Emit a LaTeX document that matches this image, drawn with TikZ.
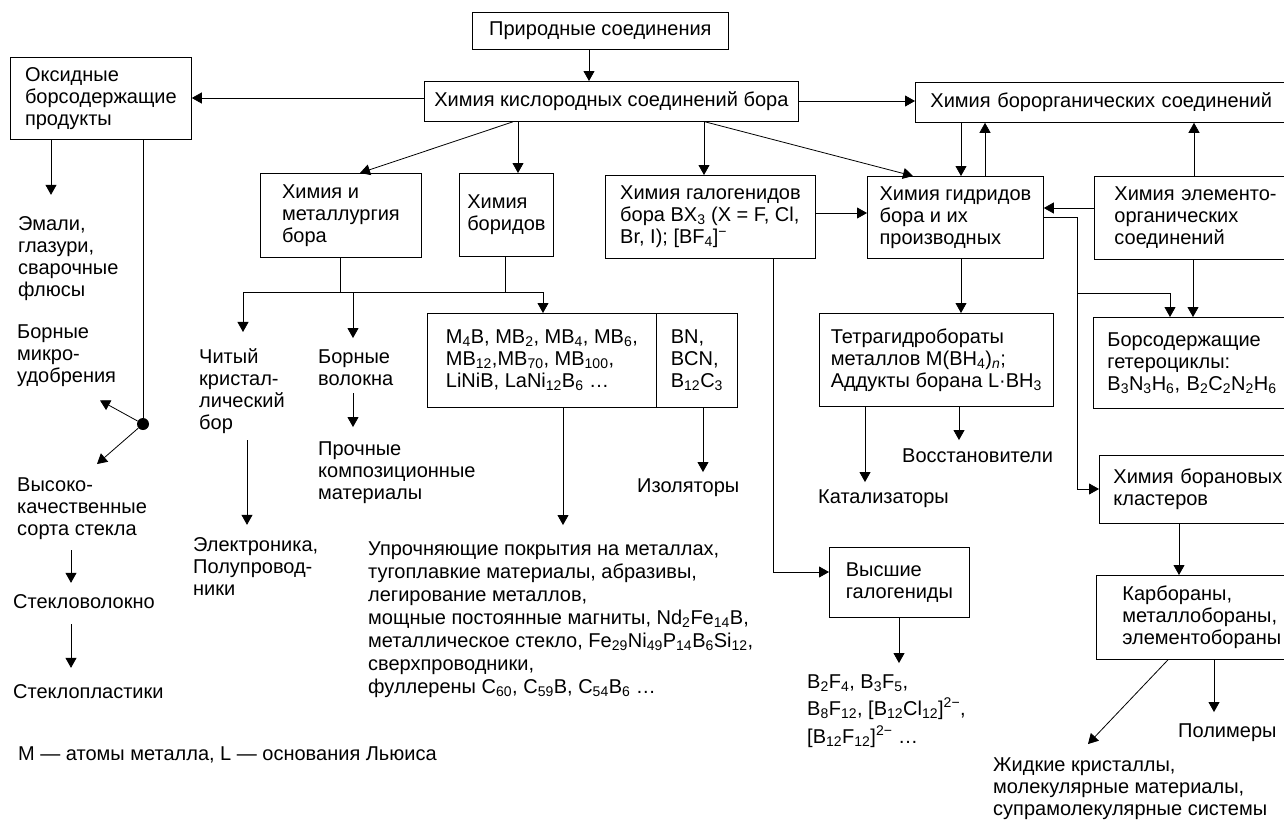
\documentclass[tikz,border=0pt]{standalone}
\usepackage{fontspec}
\setmainfont{Liberation Sans}
\usetikzlibrary{arrows.meta,calc}

\begin{document}
\begin{tikzpicture}[x=1pt,y=-1pt,
  every node/.style={font=\fontsize{20}{22}\selectfont},
  box/.style={draw, line width=0.8pt, align=left, inner sep=0pt, anchor=north west},
  obox/.style={draw, line width=0.8pt, align=left, anchor=north west, inner ysep=0pt, text width=400pt},
  txt/.style={align=left, inner sep=0pt, anchor=base west},
  link/.style={line width=0.8pt},
  arr/.style={link, -{Triangle[length=10pt,width=11pt]}},
]
\useasboundingbox (0,0) rectangle (1284,820);
\fill[white] (0,0) rectangle (1284,820);
\clip (0,0) rectangle (1284,820);

% ---- boxes ----
\node[box, minimum width=256pt, minimum height=37pt] (prir) at (472,12) {Природные соединения};
\node[box, minimum width=374pt, minimum height=40pt] (kisl) at (424,81) {Химия кислородных соединений бора};
\node[obox, inner xsep=15pt, minimum height=40pt] (org) at (915,82) {Химия борорганических соединений};
\node[box, minimum width=181pt, minimum height=82pt] (oks) at (10,57) {Оксидные\\борсодержащие\\продукты};
\node[box, minimum width=161pt, minimum height=84pt] (met) at (260,173) {Химия и\\металлургия\\бора};
\node[box, minimum width=94pt, minimum height=83pt] (borid) at (459,173) {Химия\\боридов};
\node[box, minimum width=210pt, minimum height=83pt] (gal) at (605,175)
  {Химия галогенидов\\бора BX\textsubscript{3} (X = F, Cl,\\Br, I); [BF\textsubscript{4}]\textsuperscript{−}};
\node[box, minimum width=176pt, minimum height=82pt] (gid) at (867,176) {Химия гидридов\\бора и их\\производных};
\node[obox, inner xsep=20pt, minimum height=83pt] (elem) at (1094,176) {Химия элементо-\\органических\\соединений};
\node[box, minimum width=229pt, minimum height=94pt] (mb) at (427,313)
  {M\textsubscript{4}B, MB\textsubscript{2}, MB\textsubscript{4}, MB\textsubscript{6},\\MB\textsubscript{12},MB\textsubscript{70}, MB\textsubscript{100},\\LiNiB, LaNi\textsubscript{12}B\textsubscript{6} …};
\node[box, minimum width=81pt, minimum height=94pt] (bn) at (656,313) {BN,\\BCN,\\B\textsubscript{12}C\textsubscript{3}};
\node[box, minimum width=234pt, minimum height=93pt] (tetra) at (819,313)
  {Тетрагидробораты\\металлов M(BH\textsubscript{4})\textsubscript{\textit{n}};\\Аддукты борана L·BH\textsubscript{3}};
\node[obox, inner xsep=14pt, minimum height=91pt] (het) at (1093,317)
  {Борсодержащие\\гетероциклы:\\B\textsubscript{3}N\textsubscript{3}H\textsubscript{6}, B\textsubscript{2}C\textsubscript{2}N\textsubscript{2}H\textsubscript{6}};
\node[obox, inner xsep=14pt, minimum height=68pt] (bor) at (1099,455) {Химия борановых\\кластеров};
\node[box, minimum width=140pt, minimum height=70pt] (vys) at (829,547) {Высшие\\галогениды};
\node[obox, inner xsep=26pt, minimum height=84pt] (karb) at (1096,575) {Карбораны,\\металлобораны,\\элементобораны};

% ---- free texts (placed by the baseline of their last line) ----
\node[txt] (emali) at (18,296) {Эмали,\\глазури,\\сварочные\\флюсы};
\node[txt] (mikro) at (17,382) {Борные\\микро-\\удобрения};
\node[txt] (vysoko) at (17,535) {Высоко-\\качественные\\сорта стекла};
\node[txt] (steklovol) at (13,608) {Стекловолокно};
\node[txt] (steklopl) at (13,698) {Стеклопластики};
\node[txt] (note) at (18,760) {M — атомы металла, L — основания Льюиса};
\node[txt] (chist) at (199,429) {Читый\\кристал-\\лический\\бор};
\node[txt] (volok) at (318,385) {Борные\\волокна};
\node[txt] (proch) at (318,499) {Прочные\\композиционные\\материалы};
\node[txt] (elektr) at (193,595) {Электроника,\\Полупровод-\\ники};
\node[txt, font=\fontsize{20}{23}\selectfont] (upr) at (368,693)
  {Упрочняющие покрытия на металлах,\\тугоплавкие материалы, абразивы,\\легирование металлов,\\мощные постоянные магниты, Nd\textsubscript{2}Fe\textsubscript{14}B,\\металлическое стекло, Fe\textsubscript{29}Ni\textsubscript{49}P\textsubscript{14}B\textsubscript{6}Si\textsubscript{12},\\сверхпроводники,\\фуллерены C\textsubscript{60}, C\textsubscript{59}B, C\textsubscript{54}B\textsubscript{6} …};
\node[txt] (izol) at (637,492) {Изоляторы};
\node[txt] (kataliz) at (818,503) {Катализаторы};
\node[txt] (vosst) at (902,462) {Восстановители};
\node[txt, font=\fontsize{20}{27.5}\selectfont] (halog) at (807,743)
  {B\textsubscript{2}F\textsubscript{4}, B\textsubscript{3}F\textsubscript{5},\\B\textsubscript{8}F\textsubscript{12}, [B\textsubscript{12}Cl\textsubscript{12}]\textsuperscript{2−},\\{}[B\textsubscript{12}F\textsubscript{12}]\textsuperscript{2−} …};
\node[txt] (polim) at (1178,737) {Полимеры};
\node[txt] (zhid) at (993,815) {Жидкие кристаллы,\\молекулярные материалы,\\супрамолекулярные системы};

% ---- junctions ----
\node[circle, fill, inner sep=0pt, minimum size=12pt] (dot) at (143,424) {};
\coordinate (mj) at (340,292);
\coordinate (bj) at (505,292);
\coordinate (split) at (1077,293);

% ---- connectors: upper level ----
\draw[arr] (prir.south -| 589,0) -- (kisl.north -| 589,0);
\draw[arr] (kisl.west |- 0,98) -- (oks.east |- 0,98);
\draw[arr] (kisl.east |- 0,101) -- (org.west |- 0,101);
\draw[arr] (kisl.south -| 513,0) -- (met.north -| 360,0);
\draw[arr] (kisl.south -| 518,0) -- (borid.north -| 518,0);
\draw[arr] (kisl.south -| 704,0) -- (gal.north -| 704,0);
\draw[arr] (kisl.south -| 705,0) -- (gid.north -| 913,0);
\draw[arr] (gal.east |- 0,213) -- (gid.west |- 0,213);
\draw[arr] (org.south -| 961,0) -- (gid.north -| 961,0);
\draw[arr] (gid.north -| 985,0) -- (org.south -| 985,0);
\draw[arr] (elem.north -| 1194,0) -- (org.south -| 1194,0);
\draw[arr] (elem.west |- 0,208) -- (gid.east |- 0,208);

% ---- hydride branch ----
\draw[arr] (gid.east |- 0,217) -| (split) -| (het.north -| 1170,0);
\draw[arr] (split) |- (bor.west |- 0,489);
\draw[arr] (elem.south -| 1193,0) -- (het.north -| 1193,0);
\draw[arr] (gid.south -| 961,0) -- (tetra.north -| 961,0);
\draw[arr, shorten >=7pt] (tetra.south -| 865,0) -- (kataliz.north -| 865,0);
\draw[arr, shorten >=8pt] (tetra.south -| 959,0) -- (vosst.north -| 959,0);
\draw[arr] (gal.south -| 773,0) |- (vys.west |- 0,572);
\draw[arr, shorten >=11pt] (vys.south -| 899,0) -- (halog.north -| 899,0);
\draw[arr] (bor.south -| 1179,0) -- (karb.north -| 1179,0);
\draw[arr] (karb.south -| 1168,0) -- ($(zhid.north west)+(95,-13)$);
\draw[arr, shorten >=11pt] (karb.south -| 1214,0) -- (polim.north -| 1214,0);

% ---- metallurgy and borides ----
\draw[link] (met.south -| 340,0) -- (mj);
\draw[link] (borid.south -| 505,0) -- (bj);
\draw[arr, shorten >=16pt] (mj) -| (chist.north -| 243,0);
\draw[arr, shorten >=11pt] (mj) -| (volok.north -| 353,0);
\draw[arr] (mj) -| (mb.north -| 543,0);
\draw[arr, shorten >=16pt] (mb.south -| 563,0) -- (upr.north -| 563,0);
\draw[arr, shorten >=6pt] (bn.south -| 703,0) -- (izol.north -| 703,0);
\draw[arr, shorten <=7pt, shorten >=12pt] (chist.south -| 247,0) -- (elektr.north -| 247,0);
\draw[arr, shorten <=8pt, shorten >=14pt] (volok.south -| 353,0) -- (proch.north -| 353,0);

% ---- oxide products ----
\draw[arr, shorten >=21pt] (oks.south -| 51,0) -- (emali.north -| 51,0);
\draw[link] (oks.south -| 143,0) -- (dot);
\draw[arr] (dot) -- ($(mikro.south west)+(83,14)$);
\draw[arr] (dot) -- ($(vysoko.north west)+(80,-13)$);
\draw[arr, shorten <=11pt, shorten >=11pt] (vysoko.south -| 71,0) -- (steklovol.north -| 71,0);
\draw[arr, shorten <=16pt, shorten >=16pt] (steklovol.south -| 71,0) -- (steklopl.north -| 71,0);
\end{tikzpicture}
\end{document}
